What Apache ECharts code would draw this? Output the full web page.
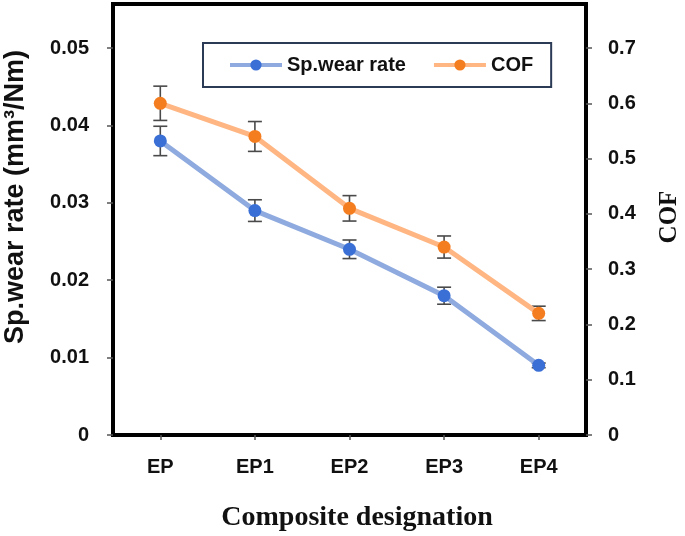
<!DOCTYPE html>
<html>
<head>
<meta charset="utf-8">
<script src="https://cdn.jsdelivr.net/npm/echarts@6/dist/echarts.min.js"></script>
<style>
html,body{margin:0;padding:0;background:#fff;}
#main{width:685px;height:536px;}
</style>
</head>
<body>
<div id="main"></div>
<script>
var categories = ['EP', 'EP1', 'EP2', 'EP3', 'EP4'];
var wearRate = [0.038, 0.029, 0.024, 0.018, 0.009];
var wearErr = [0.0019, 0.0014, 0.0012, 0.0011, 0.0003];
var cof = [0.60, 0.54, 0.41, 0.34, 0.22];
var cofErr = [0.031, 0.027, 0.023, 0.020, 0.013];
var leftTicks = [0, 0.01, 0.02, 0.03, 0.04, 0.05];
var rightTicks = [0, 0.1, 0.2, 0.3, 0.4, 0.5, 0.6, 0.7];

var chart = echarts.init(document.getElementById('main'));

function errData(vals, errs) {
  return vals.map(function (v, i) { return [i, v, errs[i]]; });
}
function errRender(params, api) {
  var x = api.value(0), v = api.value(1), e = api.value(2);
  var t = api.coord([x, v + e]);
  var b = api.coord([x, v - e]);
  var hw = 7;
  var st = { stroke: '#4a4a4a', lineWidth: 1.6 };
  return {
    type: 'group',
    children: [
      { type: 'line', shape: { x1: t[0], y1: t[1], x2: b[0], y2: b[1] }, style: st },
      { type: 'line', shape: { x1: t[0] - hw, y1: t[1], x2: t[0] + hw, y2: t[1] }, style: st },
      { type: 'line', shape: { x1: b[0] - hw, y1: b[1], x2: b[0] + hw, y2: b[1] }, style: st }
    ]
  };
}

var tickFont = { fontFamily: 'Liberation Sans', fontWeight: 'bold', fontSize: 20, color: '#111' };

chart.setOption({
  backgroundColor: '#fff',
  animation: false,
  grid: { left: 113, right: 99, top: 4, bottom: 101, show: true, borderColor: '#000', borderWidth: 4, backgroundColor: '#fff' },
  legend: {
    data: ['Sp.wear rate', 'COF'],
    left: 203, top: 43,
    padding: [12, 18, 12, 25],
    itemWidth: 52, itemHeight: 14, itemGap: 26,
    borderColor: '#2b3a55', borderWidth: 2,
    backgroundColor: '#fff',
    lineStyle: { width: 4 },
    textStyle: { fontFamily: 'Liberation Sans', fontWeight: 'bold', fontSize: 20, color: '#111' }
  },
  xAxis: {
    type: 'category',
    data: categories,
    boundaryGap: true,
    axisLine: { show: true, lineStyle: { color: '#000', width: 4 } },
    axisTick: { show: true, alignWithLabel: true, length: 5, lineStyle: { color: '#555', width: 1.5 } },
    axisLabel: Object.assign({ margin: 22 }, tickFont),
    splitLine: { show: false }
  },
  yAxis: [{
    type: 'value', min: 0, max: 0.0557, interval: 0.01,
    axisLine: { show: true, lineStyle: { color: '#000', width: 4 } },
    axisTick: { show: true, length: 6, customValues: leftTicks, lineStyle: { color: '#555', width: 1.5 } },
    axisLabel: Object.assign({ margin: 24, customValues: leftTicks, formatter: function (v) { return v === 0 ? '0' : v.toFixed(2); } }, tickFont),
    splitLine: { show: false }
  }, {
    type: 'value', min: 0, max: 0.7796, interval: 0.1,
    axisLine: { show: true, lineStyle: { color: '#000', width: 4 } },
    axisTick: { show: true, length: 6, customValues: rightTicks, lineStyle: { color: '#555', width: 1.5 } },
    axisLabel: Object.assign({ margin: 22, customValues: rightTicks, formatter: function (v) { return v === 0 ? '0' : v.toFixed(1); } }, tickFont),
    splitLine: { show: false }
  }],
  graphic: [
    { type: 'text', x: 16, y: 197, rotation: Math.PI / 2, style: { text: 'Sp.wear rate (mm³/Nm)', fontFamily: 'Liberation Sans', fontWeight: 'bold', fontSize: 27, fill: '#111', align: 'center', verticalAlign: 'middle' } },
    { type: 'text', x: 670, y: 217, rotation: Math.PI / 2, style: { text: 'COF', fontFamily: 'Liberation Serif', fontWeight: 'bold', fontSize: 25, fill: '#111', align: 'center', verticalAlign: 'middle' } },
    { type: 'text', x: 357, y: 518, style: { text: 'Composite designation', fontFamily: 'Liberation Serif', fontWeight: 'bold', fontSize: 28, fill: '#111', align: 'center', verticalAlign: 'middle' } }
  ],
  series: [{
    name: 'Sp.wear rate', type: 'line', yAxisIndex: 0, data: wearRate,
    symbol: 'circle', symbolSize: 13,
    lineStyle: { color: '#8eaadf', width: 5 },
    itemStyle: { color: '#3a6fd6' },
    z: 4
  }, {
    name: 'COF', type: 'line', yAxisIndex: 1, data: cof,
    symbol: 'circle', symbolSize: 13,
    lineStyle: { color: '#ffb683', width: 5 },
    itemStyle: { color: '#f47d20' },
    z: 4
  }, {
    name: 'wearErr', type: 'custom', yAxisIndex: 0, data: errData(wearRate, wearErr),
    renderItem: errRender, encode: { x: 0, y: 1 }, z: 3, silent: true
  }, {
    name: 'cofErr', type: 'custom', yAxisIndex: 1, data: errData(cof, cofErr),
    renderItem: errRender, encode: { x: 0, y: 1 }, z: 3, silent: true
  }]
});
</script>
</body>
</html>
